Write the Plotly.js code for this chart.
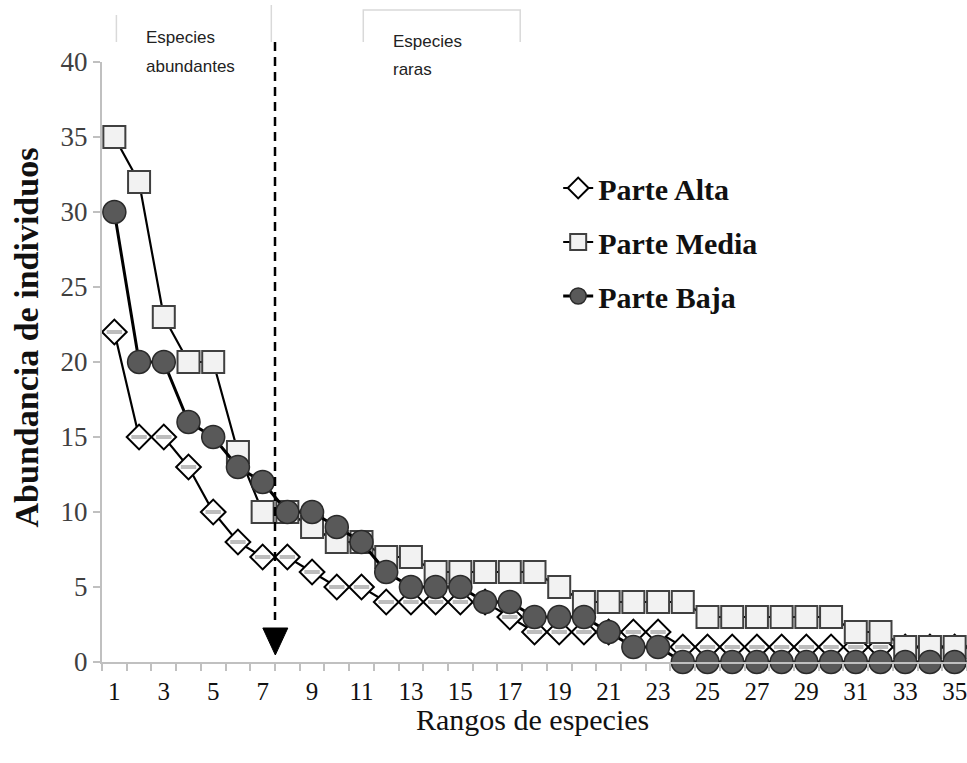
<!DOCTYPE html>
<html>
<head>
<meta charset="utf-8">
<script src="https://cdn.plot.ly/plotly-3.0.1.min.js"></script>
<style>
html,body{margin:0;padding:0;background:#fff;}
#chart{width:967px;height:763px;}
</style>
</head>
<body>
<div id="chart"></div>
<script>
// ---- data ----
const ranks = Array.from({length: 35}, (_, i) => i + 1);
const parteAlta  = [22,15,15,13,10,8,7,7,6,5,5,4,4,4,4,4,3,2,2,2,2,2,2,1,1,1,1,1,1,1,1,1,1,1,1];
const parteMedia = [35,32,23,20,20,14,10,10,9,8,8,7,7,6,6,6,6,6,5,4,4,4,4,4,3,3,3,3,3,3,2,2,1,1,1];
const parteBaja  = [30,20,20,16,15,13,12,10,10,9,8,6,5,5,5,4,4,3,3,3,2,1,1,0,0,0,0,0,0,0,0,0,0,0,0];
const xTickVals = [1,3,5,7,9,11,13,15,17,19,21,23,25,27,29,31,33,35];
const xTickText = xTickVals.map(String);
const seriesNames = ['Parte Alta', 'Parte Media', 'Parte Baja'];
const boxLabels = ['Especies', 'abundantes', 'Especies', 'raras'];
const cutRank = 7.5;

// pixel helpers for paper coords (plot area: x 101.6..967, y 62..662)
const L = 101.6, T = 62, W = 967 - 101.6, H = 600;
const px = v => (v - L) / W;
const py = v => (662 - v) / H;

const serif = 'Liberation Serif, Times New Roman, serif';
const sans = 'Liberation Sans, Arial, sans-serif';

const traces = [
  {
    x: ranks, y: parteAlta, name: seriesNames[0], legendgroup: 'a',
    type: 'scatter', mode: 'lines+markers', cliponaxis: false,
    line: {color: '#000', width: 2.2},
    marker: {symbol: 'diamond', size: 19, color: '#ffffff', line: {color: '#000', width: 2}}
  },
  {
    x: ranks, y: parteAlta, name: seriesNames[0], legendgroup: 'a', showlegend: false,
    type: 'scatter', mode: 'markers', cliponaxis: false, hoverinfo: 'skip',
    marker: {symbol: 'line-ew', size: 11, color: '#bdbdbd', line: {color: '#bdbdbd', width: 4}}
  },
  {
    x: ranks, y: parteMedia, name: seriesNames[1], legendgroup: 'b',
    type: 'scatter', mode: 'lines+markers', cliponaxis: false,
    line: {color: '#000', width: 2.2},
    marker: {symbol: 'square', size: 22, color: '#f2f2f2', line: {color: '#404040', width: 2}}
  },
  {
    x: ranks, y: parteBaja, name: seriesNames[2], legendgroup: 'c',
    type: 'scatter', mode: 'lines+markers', cliponaxis: false,
    line: {color: '#000', width: 3},
    marker: {symbol: 'circle', size: 23, color: '#595959', line: {color: '#2a2a2a', width: 1.5}}
  }
];

const grayLine = {color: '#d9d9d9', width: 1.5};
const ann = (x, y, text, font, extra) => Object.assign({
  xref: 'paper', yref: 'paper', x: px(x), y: py(y), text: text, showarrow: false,
  xanchor: 'center', yanchor: 'middle', font: font
}, extra || {});

const layout = {
  width: 967, height: 763,
  margin: {l: L, r: 0, t: T, b: 763 - 662, pad: 0},
  paper_bgcolor: '#fff', plot_bgcolor: '#fff',
  showlegend: true,
  legend: {
    x: px(558), y: py(162), xanchor: 'left', yanchor: 'top',
    bgcolor: 'rgba(0,0,0,0)', borderwidth: 0,
    font: {family: serif, size: 30, color: '#111', weight: 'bold'},
    tracegroupgap: 12, traceorder: 'grouped', itemwidth: 30
  },
  xaxis: {
    range: [0.5, 35.5], showgrid: false, zeroline: false,
    showline: true, linecolor: '#c0c0c0', linewidth: 2,
    tickmode: 'array', tickvals: xTickVals, ticktext: xTickText,
    ticks: 'outside', ticklen: 6, tickcolor: 'rgba(0,0,0,0)',
    ticklabeloverflow: 'allow',
    tickfont: {family: serif, size: 25, color: '#111'},
    minor: {ticks: 'outside', tick0: 0.5, dtick: 1, ticklen: 7, tickcolor: '#c0c0c0', tickwidth: 2, showgrid: false}
  },
  yaxis: {
    range: [0, 40], dtick: 5, showgrid: false, zeroline: false,
    showline: true, linecolor: '#c0c0c0', linewidth: 2,
    ticks: 'outside', ticklen: 7, tickcolor: '#c0c0c0', tickwidth: 2,
    tickfont: {family: serif, size: 27, color: '#404040'}
  },
  annotations: [
    ann(26, 337, 'Abundancia de individuos', {family: serif, size: 34, color: '#111', weight: 'bold'}, {textangle: -90}),
    ann(532, 719, 'Rangos de especies', {family: serif, size: 30, color: '#111'}),
    ann(144, 38, boxLabels[0], {family: sans, size: 17, color: '#222'}, {xanchor: 'left'}),
    ann(144, 66, boxLabels[1], {family: sans, size: 17, color: '#222'}, {xanchor: 'left'}),
    ann(391, 41, boxLabels[2], {family: sans, size: 17, color: '#222'}, {xanchor: 'left'}),
    ann(391, 70, boxLabels[3], {family: sans, size: 17, color: '#222'}, {xanchor: 'left'})
  ],
  shapes: [
    // text box remnants
    {type: 'line', xref: 'paper', yref: 'paper', x0: px(116), x1: px(116), y0: py(15), y1: py(42), line: grayLine},
    {type: 'line', xref: 'paper', yref: 'paper', x0: px(271), x1: px(271), y0: py(5), y1: py(42), line: grayLine},
    {type: 'path', xref: 'paper', yref: 'paper',
     path: `M ${px(363)} ${py(42)} L ${px(363)} ${py(10)} L ${px(520)} ${py(10)} L ${px(520)} ${py(42)}`,
     line: grayLine},
    // dashed separator
    {type: 'line', xref: 'x', yref: 'paper', x0: cutRank, x1: cutRank, y0: py(42), y1: py(620),
     line: {color: '#000', width: 2.5, dash: '9px,6px'}},
    // arrow head
    {type: 'path', xref: 'paper', yref: 'paper',
     path: `M ${px(262.5)} ${py(628)} L ${px(287.5)} ${py(628)} L ${px(275)} ${py(655)} Z`,
     fillcolor: '#000', line: {color: '#000', width: 1}}
  ]
};

Plotly.newPlot('chart', traces, layout, {displayModeBar: false, staticPlot: true});
</script>
</body>
</html>
